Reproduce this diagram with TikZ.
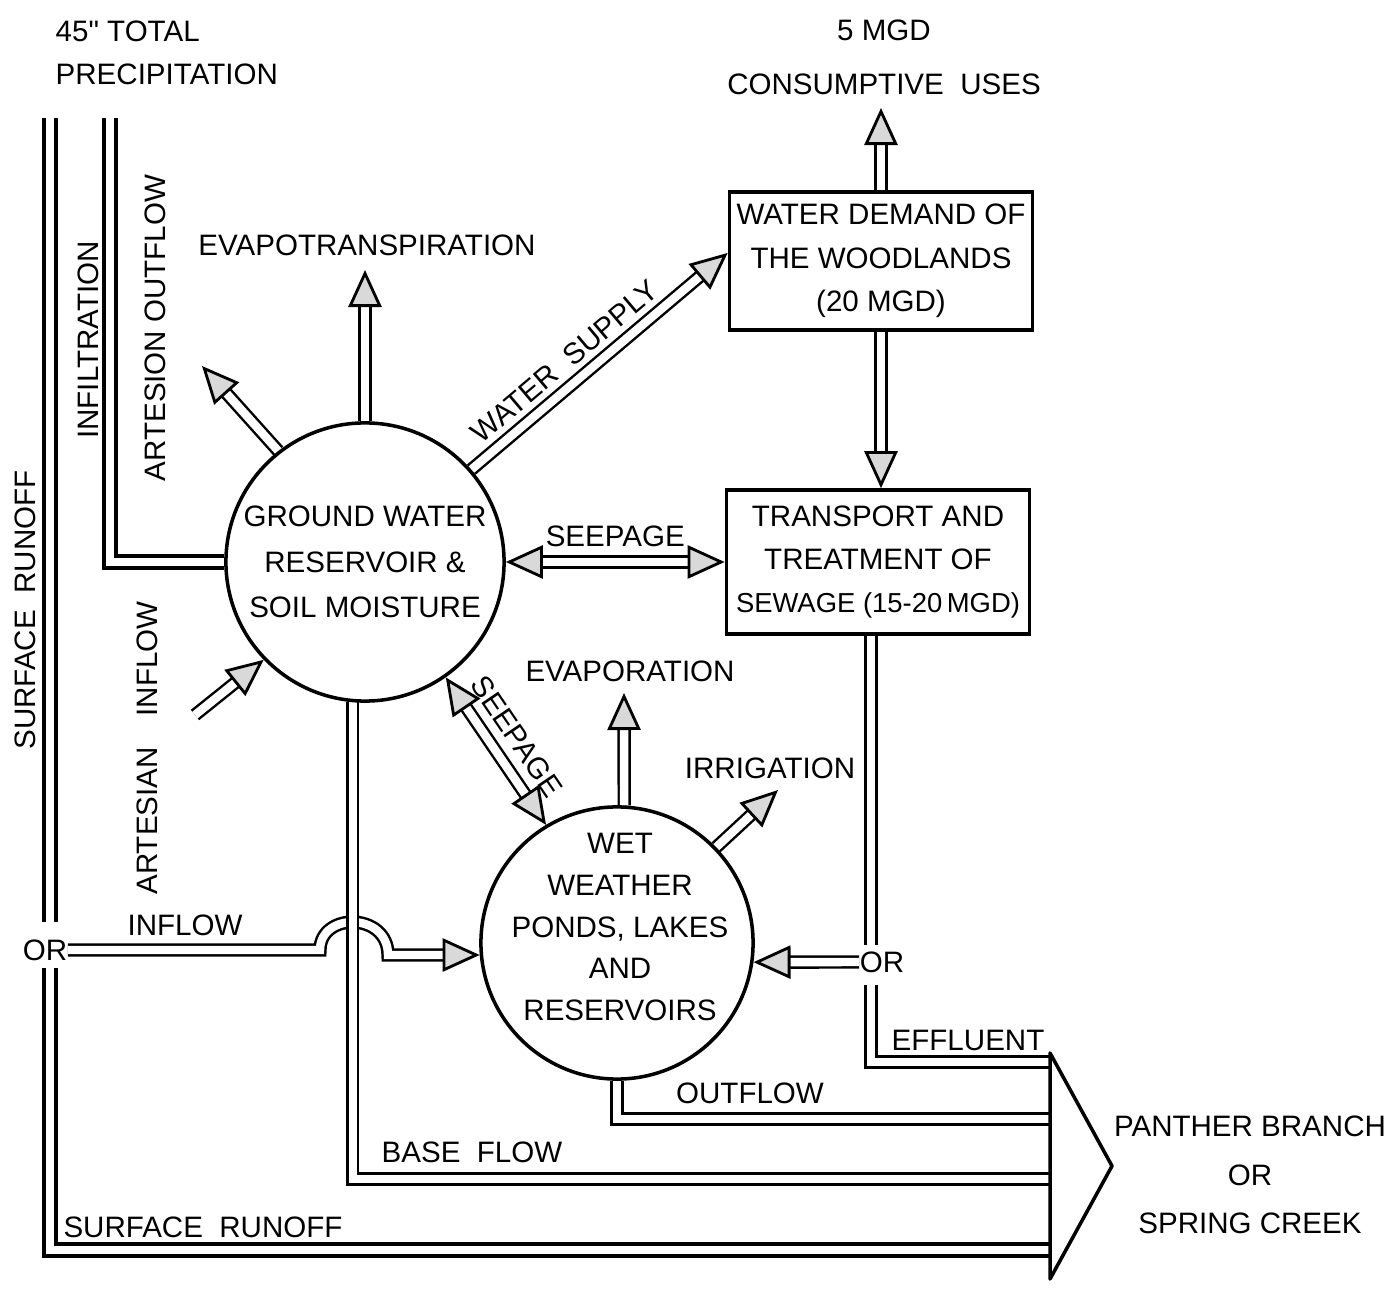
\documentclass[tikz,border=0pt]{standalone}
\usepackage{fontspec}
\setmainfont{Liberation Sans}
\newfontfamily\rawsans[Ligatures=TeXOff]{Liberation Sans}
\usetikzlibrary{arrows.meta, backgrounds}

\begin{document}
\begin{tikzpicture}[x=0.01cm, y=-0.01cm,
    >={Triangle[length=0.37cm, width=0.33cm, fill=black!15, line width=0.8pt 0]},
    every node/.style={font=\fontsize{8.4}{12.3}\selectfont, inner sep=0pt},
    duct/.style={draw, line width=0.7pt, double, double distance=2.4pt},
    heavyduct/.style={duct, line width=1.1pt},
    tank/.style={draw, circle, line width=1pt, align=center},
    demand/.style={draw, line width=1pt, minimum width=3.03cm, align=center}]
  \useasboundingbox (0,0) rectangle (1397,1289);

  % reservoirs and demands
  \node[tank, minimum size=2.78cm] (gw) at (365,562) {GROUND WATER\\[0.6pt]RESERVOIR \&\\[0.6pt]SOIL MOISTURE};
  \node[tank, minimum size=2.72cm] (wet) at (617,943) {};
  \node[align=center, font=\fontsize{8.4}{11.9}\selectfont] (wettxt) at (620,927) {WET\\WEATHER\\PONDS, LAKES\\AND\\RESERVOIRS};
  \node[demand, minimum height=1.38cm] (wood) at (881,261) {WATER DEMAND OF\\THE WOODLANDS\\(20 MGD)};
  \node[demand, minimum height=1.44cm] (sew) at (878,562) {TRANSPORT AND\\TREATMENT OF\\{\fontsize{7.8}{12.3}\selectfont SEWAGE (15-20\,MGD)}};

  % labels
  \node[align=left, anchor=west] (rain) at (55,53) {45{\rawsans"}\ TOTAL\\PRECIPITATION};
  \node[align=center] (use) at (884,57) {5 MGD\\[3pt]CONSUMPTIVE\ \ USES};
  \node (evt) at (367,245) {EVAPOTRANSPIRATION};
  \node (evp) at (630,671) {EVAPORATION};
  \node (irr) at (770,768) {IRRIGATION};
  \node (infw) at (185,925) {INFLOW};
  \node (orl) at (45,950) {OR};
  \node (orr) at (882,962) {OR};
  \node (eff) at (968,1040) {EFFLUENT};
  \node (outfl) at (750,1093) {OUTFLOW};
  \node (base) at (472,1152) {BASE\ \ FLOW};
  \node (sro) at (203,1227) {SURFACE\ \ RUNOFF};
  \node[rotate=90] (srv) at (25,610) {SURFACE\ \ RUNOFF};
  \node[rotate=90] (infl) at (88,340) {INFILTRATION};
  \node[rotate=90] (aout) at (155,328) {ARTESION\ OUTFLOW};
  \node[rotate=90] (ain) at (147,748) {ARTESIAN\hspace{0.31cm}INFLOW};
  \node[align=center] (creek) at (1250,1175) {PANTHER BRANCH\\[1.5pt]OR\\[1.5pt]SPRING CREEK};

  % free ends
  \coordinate (usetip) at (881,108);
  \coordinate (evttip) at (365,270);
  \coordinate (nwtip) at (202,366);
  \coordinate (evptip) at (624,693);
  \coordinate (irrtip) at (778,790);
  \coordinate (aintail) at (195,715);
  \coordinate (srtop) at (50,118);
  \coordinate (srgap1) at (50,922);
  \coordinate (srgap2) at (50,968);
  \coordinate (inftop) at (110,118);
  \coordinate (hopa) at (320,950);
  \coordinate (hopb) at (388,955);
  \coordinate (e1) at (871,945);
  \coordinate (e2) at (871,985);
  \coordinate (rtop) at (1050,1053);
  \coordinate (rtip) at (1112,1166);
  \coordinate (rbot) at (1050,1279);
  \coordinate (effend) at (1050,1062);
  \coordinate (outend) at (1050,1119);
  \coordinate (baseend) at (1050,1179);
  \coordinate (srend) at (1050,1250);

  \begin{scope}[on background layer]
    \draw[duct, ->] (wood.north) -- (usetip);
    \draw[duct, ->] (wood.south) -- (wood.south |- sew.north);
    \draw[duct, ->] (gw.41) -- node[sloped, above=3pt, pos=0.42] {WATER\ \ SUPPLY} (wood.177);
    \draw[duct, <->] (gw.east) -- node[above=4pt] {SEEPAGE} (sew.west);
    \draw[duct, <->] (gw.-55) -- node[sloped, above=4pt] {SEEPAGE} (wet.121);
    \draw[duct, ->] (gw.north) -- (evttip);
    \draw[duct, ->] (gw.128) -- (nwtip);
    \draw[duct, ->] (aintail) -- (gw.224);
    \draw[duct, ->] (wet.87) -- (evptip);
    \draw[duct, ->] (wet.44) -- (irrtip);
    \draw[duct, ->] (orr.west) -- (wet.-8);
    \draw[duct, ->] (orl.east) -- (hopa) .. controls +(0,-38) and +(0,-43) .. (hopb) -- (wet.185);
    \draw[duct] (gw.265) |- (baseend);
    \draw[duct] (wet.south) |- (outend);
    \draw[duct] (sew.south -| e1) -- (e1);
    \draw[duct] (e2) |- (effend);
    \draw[heavyduct] (srtop) -- (srgap1);
    \draw[heavyduct] (srgap2) |- (srend);
    \draw[heavyduct] (inftop) |- (gw.west);
  \end{scope}
  \draw[line width=1pt, line join=round] (rtop) -- (rtip) -- (rbot) -- cycle;
\end{tikzpicture}
\end{document}
